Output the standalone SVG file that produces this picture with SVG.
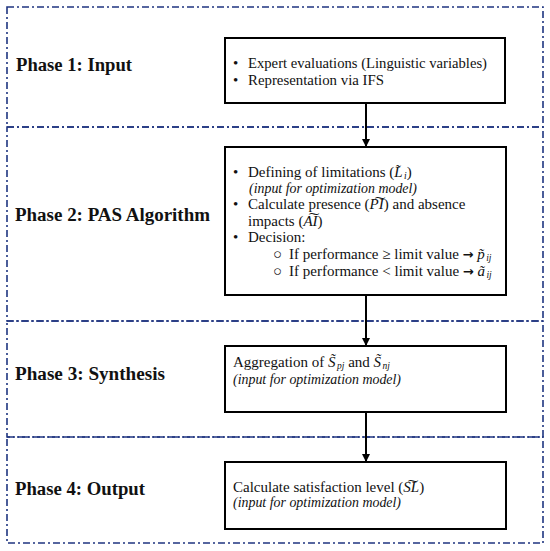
<svg xmlns="http://www.w3.org/2000/svg" width="550" height="551" viewBox="0 0 550 551">
<style>
.phase{fill:none;stroke:#1f3580;stroke-width:1.6;stroke-dasharray:7 3 2 3}
.box{fill:#fff;stroke:#000;stroke-width:2}
.lbl{font-family:"Liberation Serif",serif;font-weight:bold;font-size:18px;fill:#111}
.t{font-family:"Liberation Serif",serif;font-size:15px;fill:#111}
.i{font-style:italic}
.sub{font-size:9.5px;font-style:italic}
.arr{font-family:"DejaVu Sans",sans-serif;font-weight:bold;font-size:13px}
.con{stroke:#000;stroke-width:2;fill:none;marker-end:url(#ah)}
</style>
<defs>
<marker id="ah" markerWidth="8" markerHeight="8" refX="7" refY="4" orient="auto" markerUnits="userSpaceOnUse">
<path d="M0,0 L8,4 L0,8 Z" fill="#000"/>
</marker>
</defs>
<g id="phases">
<rect class="phase" x="7" y="7" width="536" height="120"/>
<rect class="phase" x="7" y="127" width="536" height="194"/>
<rect class="phase" x="7" y="321" width="536" height="116"/>
<rect class="phase" x="7" y="437" width="536" height="106"/>
</g>
<g id="phase1">
<text class="lbl" x="16" y="71" textLength="116" lengthAdjust="spacingAndGlyphs">Phase 1: Input</text>
</g>
<g id="phase2">
<text class="lbl" x="15" y="221" textLength="195" lengthAdjust="spacingAndGlyphs">Phase 2: PAS Algorithm</text>
</g>
<g id="phase3">
<text class="lbl" x="15" y="380" textLength="150" lengthAdjust="spacingAndGlyphs">Phase 3: Synthesis</text>
</g>
<g id="phase4">
<text class="lbl" x="15" y="495" textLength="130" lengthAdjust="spacingAndGlyphs">Phase 4: Output</text>
</g>
<g id="connectors">
<line class="con" x1="366" y1="103" x2="366" y2="146"/>
<line class="con" x1="366" y1="295" x2="366" y2="345"/>
<line class="con" x1="366" y1="412" x2="366" y2="461"/>
</g>
<g id="box1">
<rect class="box" x="225" y="38" width="280" height="65"/>
<text class="t" x="233" y="68">•</text>
<text class="t" x="248" y="68" textLength="239" lengthAdjust="spacingAndGlyphs">Expert evaluations (Linguistic variables)</text>
<text class="t" x="233" y="85">•</text>
<text class="t" x="248" y="85" textLength="136" lengthAdjust="spacingAndGlyphs">Representation via IFS</text>
</g>
<g id="box2">
<rect class="box" x="225" y="147" width="281" height="148"/>
<text class="t" x="233" y="177">•</text>
<text class="t" x="248" y="177">Defining of limitations (<tspan class="i">L̃</tspan><tspan class="sub" dx="1.5" dy="2">i</tspan><tspan dy="-2">)</tspan></text>
<text class="t i" x="249" y="192.5" textLength="168" lengthAdjust="spacingAndGlyphs">(input for optimization model)</text>
<text class="t" x="233" y="209">•</text>
<text class="t" x="248" y="209">Calculate presence (<tspan class="i">P͠I</tspan>) and absence</text>
<text class="t" x="248" y="225.5">impacts (<tspan class="i">A͠I</tspan>)</text>
<text class="t" x="233" y="242">•</text>
<text class="t" x="248" y="242">Decision:</text>
<text class="t" x="273" y="259" font-size="11">○</text>
<text class="t" x="289" y="259">If performance ≥ limit value <tspan class="arr">→</tspan> <tspan class="i">p̃</tspan><tspan class="sub" dx="1.5" dy="2">ij</tspan></text>
<text class="t" x="273" y="276" font-size="11">○</text>
<text class="t" x="289" y="276">If performance &lt; limit value <tspan class="arr">→</tspan> <tspan class="i">ã</tspan><tspan class="sub" dx="1.5" dy="2">ij</tspan></text>
</g>
<g id="box3">
<rect class="box" x="225" y="346" width="281" height="66"/>
<text class="t" x="233" y="367">Aggregation of <tspan class="i">S̃</tspan><tspan class="sub" dx="1.5" dy="2">pj</tspan><tspan dy="-2"> and </tspan><tspan class="i">S̃</tspan><tspan class="sub" dx="1.5" dy="2">nj</tspan></text>
<text class="t i" x="233" y="384" textLength="168" lengthAdjust="spacingAndGlyphs">(input for optimization model)</text>
</g>
<g id="box4">
<rect class="box" x="225" y="462" width="281" height="67"/>
<text class="t" x="233" y="492">Calculate satisfaction level (<tspan class="i">S͠L</tspan>)</text>
<text class="t i" x="233" y="507" textLength="168" lengthAdjust="spacingAndGlyphs">(input for optimization model)</text>
</g>
</svg>
